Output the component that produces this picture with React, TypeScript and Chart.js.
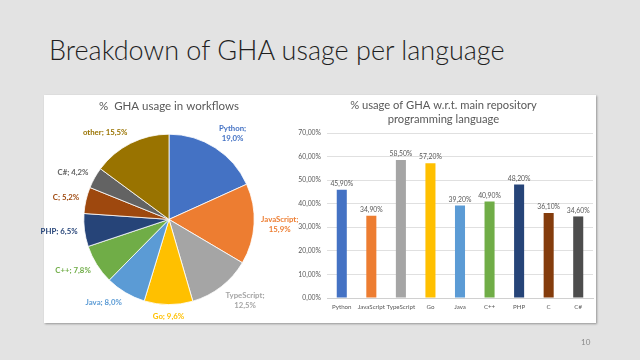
import React, { useEffect, useRef } from 'react';
import { Chart, registerables } from 'chart.js';

Chart.register(...registerables);

// ---- data ----
const pieLabels = ['Python', 'JavaScript', 'TypeScript', 'Go', 'Java', 'C++', 'PHP', 'C', 'C#', 'other'];
const pieValues = [19.0, 15.9, 12.5, 9.6, 8.0, 7.8, 6.5, 5.2, 4.2, 15.5];
const pieColors = ['#4472C4', '#ED7D31', '#A5A5A5', '#FFC000', '#5B9BD5', '#70AD47', '#264478', '#9E480E', '#636363', '#997300'];

const barLabels = ['Python', 'JavaScript', 'TypeScript', 'Go', 'Java', 'C++', 'PHP', 'C', 'C#'];
const barValues = [45.9, 34.9, 58.5, 57.2, 39.2, 40.9, 48.2, 36.1, 34.6];
const barColors = ['#4472C4', '#ED7D31', '#A5A5A5', '#FFC000', '#5B9BD5', '#70AD47', '#264478', '#843C0C', '#4D4D4D'];

const yMin = 0;
const yMax = 70;
const yStep = 10;

const pieTitle = '%  GHA usage in workflows';
const barTitle = ['% usage of GHA w.r.t. main repository', 'programming language'];
const slideTitle = 'Breakdown of GHA usage per language';
const pageNumber = '10';

const FONT = 'Lato, "Open Sans", sans-serif';
const comma = (v: number, d: number) => v.toFixed(d).replace('.', ',');

const pieLabelPlugin = {
  id: 'pieOutLabels',
  afterDatasetsDraw(chart: any) {
    const ctx = chart.ctx;
    const meta = chart.getDatasetMeta(0);
    const ds = chart.data.datasets[0];
    ctx.save();
    ctx.font = `bold 7.8px ${FONT}`;
    const lineH = 10;
    meta.data.forEach((arc: any, i: number) => {
      const { x, y, startAngle, endAngle, outerRadius } = arc;
      const mid = (startAngle + endAngle) / 2;
      const c = Math.cos(mid);
      const s = Math.sin(mid);
      const r = outerRadius + 7;
      const ax = x + c * r;
      const ay = y + s * r;
      const name = chart.data.labels[i];
      const val = comma(ds.data[i], 1) + '%';
      const lines = c > 0.3 ? [name + ';', val] : [name + '; ' + val];
      const w = Math.max(...lines.map((l: string) => ctx.measureText(l).width));
      const h = lines.length * lineH;
      let cx = ax;
      if (c > 0.1) cx = ax + w / 2;
      else if (c < -0.1) cx = ax - w / 2;
      const cy = ay + s * (h / 2);
      ctx.fillStyle = pieColors[i];
      ctx.textAlign = 'center';
      ctx.textBaseline = 'middle';
      lines.forEach((l: string, k: number) => {
        ctx.fillText(l, cx, cy - h / 2 + lineH / 2 + k * lineH);
      });
    });
    ctx.restore();
  },
};

const barLabelPlugin = {
  id: 'barValueLabels',
  afterDatasetsDraw(chart: any) {
    const ctx = chart.ctx;
    const meta = chart.getDatasetMeta(0);
    const ds = chart.data.datasets[0];
    ctx.save();
    ctx.font = `6.8px ${FONT}`;
    ctx.fillStyle = '#595959';
    ctx.textAlign = 'center';
    ctx.textBaseline = 'middle';
    meta.data.forEach((bar: any, i: number) => {
      ctx.fillText(comma(ds.data[i], 2) + '%', bar.x, bar.y - 6);
    });
    ctx.restore();
  },
};

function PieChart() {
  const ref = useRef<HTMLCanvasElement>(null);
  useEffect(() => {
    const chart = new Chart(ref.current as HTMLCanvasElement, {
      type: 'pie',
      data: {
        labels: pieLabels,
        datasets: [
          {
            data: pieValues,
            backgroundColor: pieColors,
            borderColor: '#ffffff',
            borderWidth: 0.8,
          },
        ],
      },
      options: {
        responsive: false,
        animation: false,
        layout: { padding: { top: 0, left: 59, right: 59, bottom: 18 } },
        plugins: {
          legend: { display: false },
          tooltip: { enabled: false },
          title: {
            display: true,
            text: pieTitle,
            color: '#595959',
            font: { size: 11.5, family: FONT, weight: 'normal' },
            padding: { top: 4, bottom: 21 },
          },
        },
      } as any,
      plugins: [pieLabelPlugin],
    });
    return () => chart.destroy();
  }, []);
  return <canvas ref={ref} width={290} height={228} style={{ position: 'absolute', left: 24, top: 95 }} />;
}

function BarChart() {
  const ref = useRef<HTMLCanvasElement>(null);
  useEffect(() => {
    const chart = new Chart(ref.current as HTMLCanvasElement, {
      type: 'bar',
      data: {
        labels: barLabels,
        datasets: [
          {
            data: barValues,
            backgroundColor: barColors,
            barPercentage: 0.68,
            categoryPercentage: 0.5,
          },
        ],
      },
      options: {
        responsive: false,
        animation: false,
        layout: { padding: { top: 0, left: 0, right: 3, bottom: 0 } },
        plugins: {
          legend: { display: false },
          tooltip: { enabled: false },
          title: {
            display: true,
            text: barTitle,
            color: '#595959',
            font: { size: 11.2, family: FONT, weight: 'normal', lineHeight: 1.25 },
            padding: { top: 3, bottom: 7 },
          },
        },
        scales: {
          x: {
            grid: { display: false, drawTicks: false },
            border: { display: true, color: '#D0D0D0' },
            ticks: { color: '#595959', font: { size: 6.2, family: FONT }, padding: 5, maxRotation: 0, autoSkip: false },
            afterFit: (s: any) => {
              s.height = 25;
            },
          },
          y: {
            min: yMin,
            max: yMax,
            grid: { color: '#E0E0E0', drawTicks: false },
            border: { display: false },
            ticks: {
              stepSize: yStep,
              color: '#595959',
              font: { size: 6.8, family: FONT },
              padding: 6,
              callback: (v: any) => comma(Number(v), 2) + '%',
            },
            afterFit: (s: any) => {
              s.width = 33;
            },
          },
        },
      } as any,
      plugins: [barLabelPlugin],
    });
    return () => chart.destroy();
  }, []);
  return <canvas ref={ref} width={302} height={228} style={{ position: 'absolute', left: 294, top: 95 }} />;
}

export default function App() {
  return (
    <div
      style={{
        position: 'fixed',
        left: 0,
        top: 0,
        width: 640,
        height: 360,
        background: '#E3E3E3',
        overflow: 'hidden',
        fontFamily: FONT,
      }}
    >
      <div
        style={{
          position: 'absolute',
          left: 49,
          top: 33,
          fontSize: 27,
          fontWeight: 300,
          color: '#1F1F1F',
          whiteSpace: 'nowrap',
          lineHeight: '34px',
        }}
      >
        {slideTitle}
      </div>
      <div
        style={{
          position: 'absolute',
          left: 44,
          top: 95,
          width: 552,
          height: 228,
          background: '#FFFFFF',
          boxShadow: '1px 1px 2px rgba(0,0,0,0.35)',
        }}
      />
      <PieChart />
      <BarChart />
      <div style={{ position: 'absolute', left: 581, top: 337, fontSize: 8, color: '#8A8A8A' }}>{pageNumber}</div>
    </div>
  );
}
